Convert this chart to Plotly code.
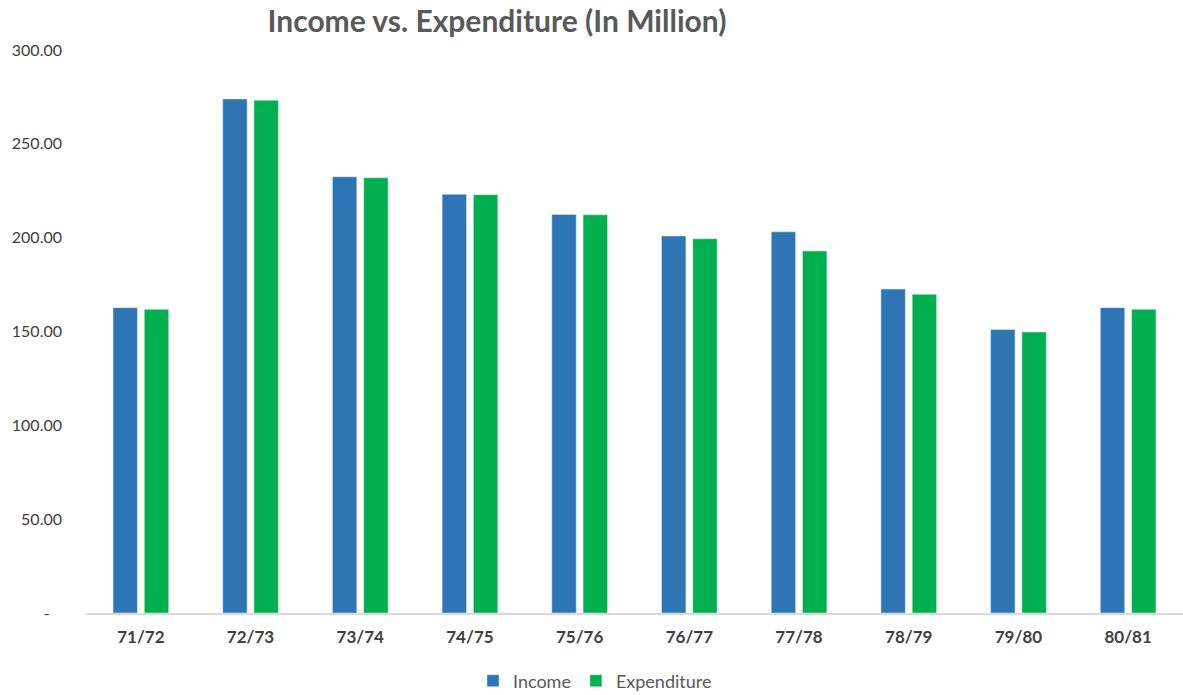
import plotly.graph_objects as go

categories = ["71/72", "72/73", "73/74", "74/75", "75/76", "76/77", "77/78", "78/79", "79/80", "80/81"]
income = [162.7, 273.9, 232.4, 223.1, 212.4, 200.9, 203.1, 172.6, 151.1, 162.7]
expenditure = [161.8, 273.2, 231.9, 222.9, 212.2, 199.4, 192.9, 169.8, 149.7, 161.8]
y_tickvals = [0, 50, 100, 150, 200, 250, 300]
y_ticktext = ["-\u00a0\u00a0\u00a0", "50.00", "100.00", "150.00", "200.00", "250.00", "300.00"]

W, H = 1183, 695
fig = go.Figure()
fig.add_trace(go.Bar(name="Income", x=categories, y=income, marker_color="#2E75B6"))
fig.add_trace(go.Bar(name="Expenditure", x=categories, y=expenditure, marker_color="#00B050"))

font_fam = "Lato, 'Open Sans', Arial, sans-serif"
fig.update_layout(
    width=W, height=H,
    barmode="group", bargap=0.43, bargroupgap=0.22,
    plot_bgcolor="white", paper_bgcolor="white",
    margin=dict(l=86, r=0, t=50, b=H - 613),
    title=dict(text="<b>Income vs. Expenditure (In Million)</b>", x=497 / W, xanchor="center",
               y=1 - 21 / H, yanchor="middle",
               font=dict(family=font_fam, size=30, color="#595959")),
    legend=dict(orientation="h", x=595 / W, xanchor="center", y=1 - 681 / H, yanchor="middle",
                yref="container", xref="container",
                font=dict(family=font_fam, size=18, color="#595959"), itemwidth=30),
    xaxis=dict(showline=True, linecolor="#D9D9D9", linewidth=1.5, showgrid=False, automargin=False,
               tickfont=dict(family=font_fam, size=17, color="#404040"), ticks="", ticklabelstandoff=8),
    yaxis=dict(range=[0, 300], tickvals=y_tickvals, ticktext=y_ticktext, showgrid=False,
               zeroline=False, showline=False, ticklabelstandoff=23, automargin=False,
               tickfont=dict(family=font_fam, size=16, color="#404040")),
)
fig.update_xaxes(tickprefix="<b>", ticksuffix="</b>")
fig.update_yaxes(tickprefix="<b>", ticksuffix="</b>")
fig.write_html("out.html", config={"displayModeBar": False},
               post_script="document.body.style.margin='0';")
